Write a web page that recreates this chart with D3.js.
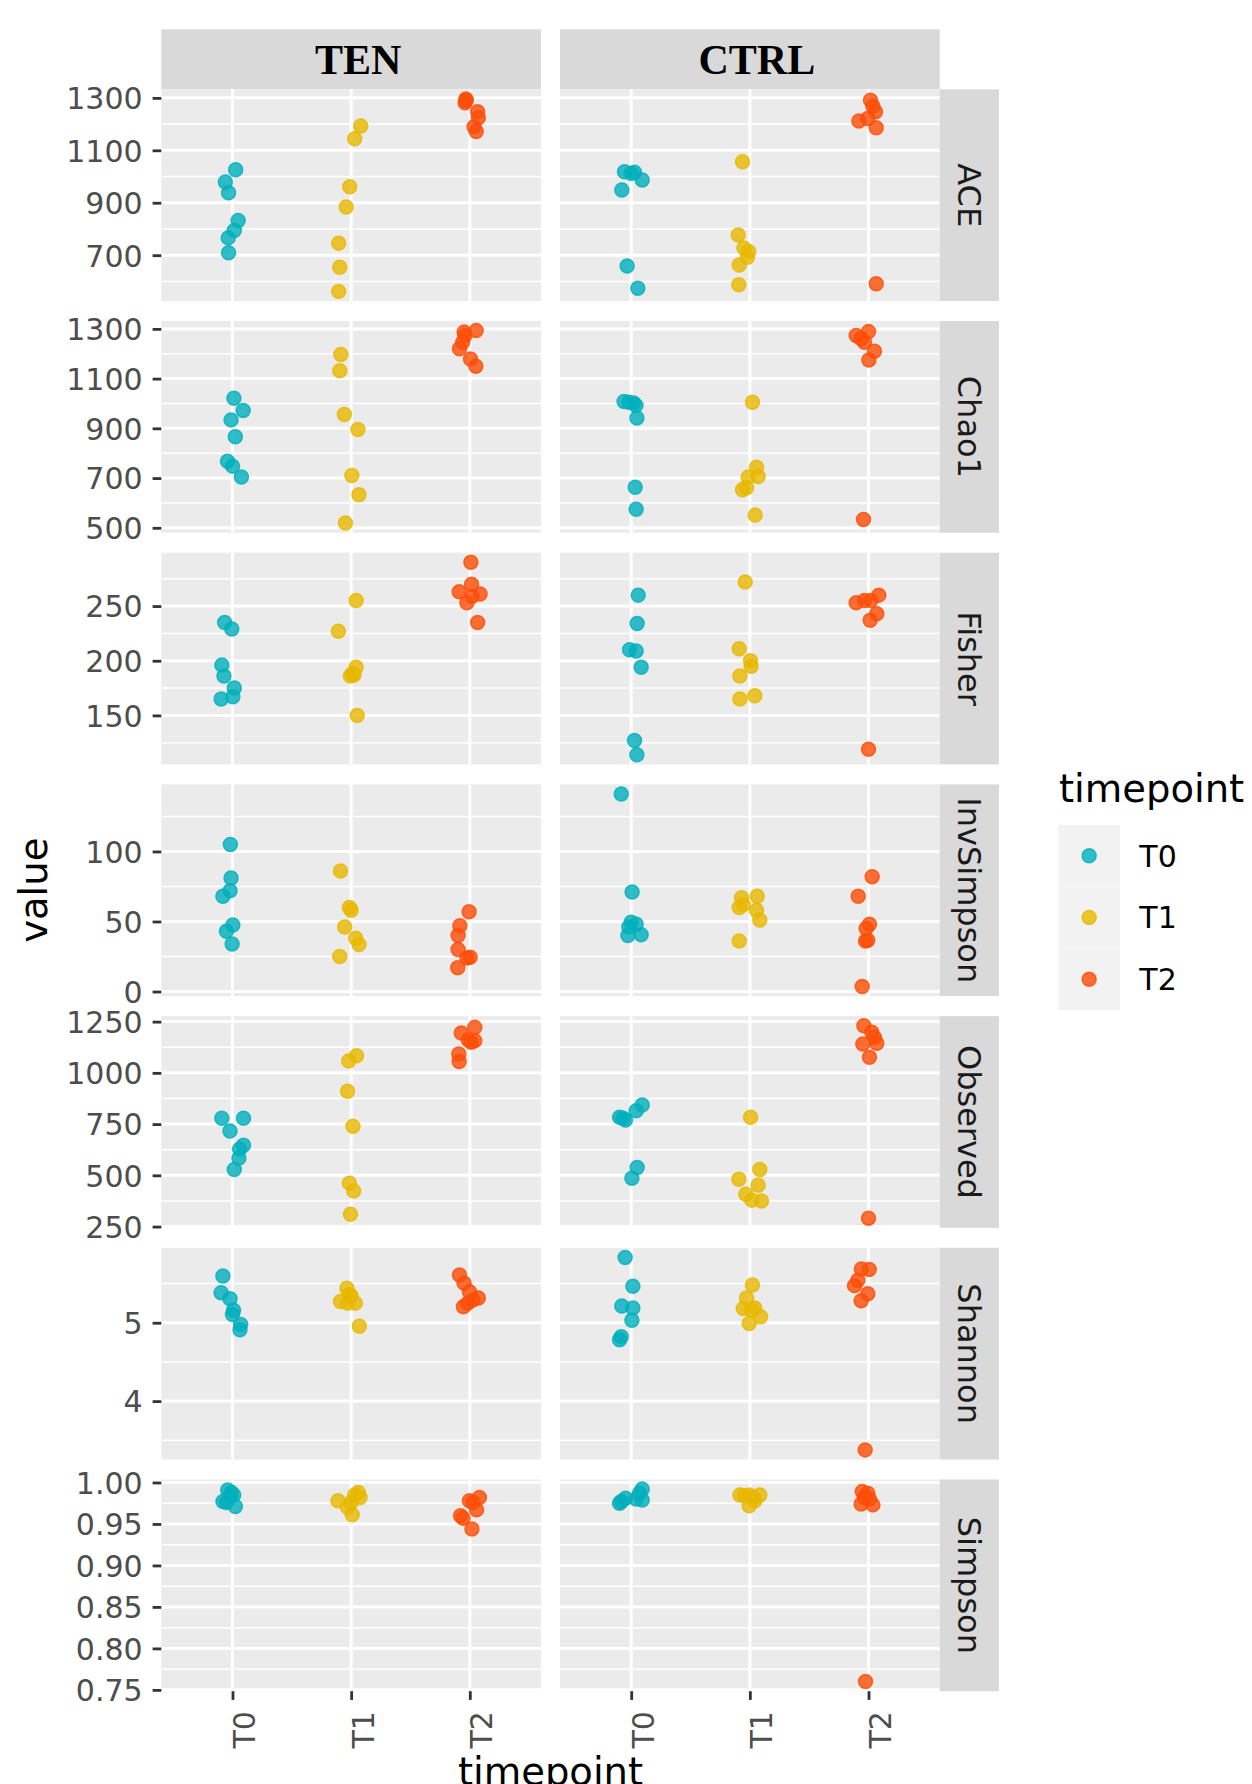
<!DOCTYPE html>
<html>
<head>
<meta charset="utf-8">
<script src="https://cdn.jsdelivr.net/npm/d3@7"></script>
<style>
  body { margin: 0; background: #fff; }
  text { font-family: "DejaVu Sans", sans-serif; }
</style>
</head>
<body>
<div id="chart"></div>
<script>
// facet layout: rows = alpha diversity index, columns = group
var timepoints = ["T0", "T1", "T2"];
var groups = ["TEN", "CTRL"];
var metrics = ["ACE", "Chao1", "Fisher", "InvSimpson", "Observed", "Shannon", "Simpson"];
var colors = ["#00AFBB", "#E7B800", "#FC4E07"];

// each metric: TEN-T0, TEN-T1, TEN-T2, CTRL-T0, CTRL-T1, CTRL-T2 (7 samples each)
var ace = [
  [1026, 979, 938, 832, 794, 766, 709],
  [1193, 1144, 961, 884, 746, 654, 562],
  [1296, 1290, 1281, 1247, 1224, 1190, 1172],
  [1018, 1016, 1012, 987, 949, 659, 574],
  [1056, 777, 727, 714, 692, 663, 587],
  [1291, 1268, 1247, 1221, 1212, 1186, 591]
];
var chao1 = [
  [1021, 972, 934, 866, 768, 748, 704],
  [1197, 1132, 956, 895, 710, 633, 519],
  [1293, 1287, 1273, 1246, 1220, 1179, 1150],
  [1008, 1005, 1002, 992, 942, 663, 575],
  [1005, 744, 706, 704, 661, 653, 551],
  [1289, 1273, 1260, 1246, 1210, 1175, 533]
];
var fisher = [
  [235, 229, 196, 186, 175, 167, 165],
  [255, 227, 194, 188, 187, 186, 150],
  [290, 270, 263, 261, 259, 253, 235],
  [260, 234, 210, 209, 194, 127, 114],
  [272, 211, 200, 195, 186, 168, 165],
  [260, 255, 255, 253, 243, 237, 119]
];
var invSimpson = [
  [105, 81, 72, 68, 47.5, 43, 34],
  [86, 60, 58, 46, 38, 33.5, 25],
  [57, 47, 40, 30, 24.5, 24, 17],
  [141, 71, 49.4, 48, 46, 40.6, 40],
  [68, 67, 62, 60, 58, 51, 36],
  [82, 68, 48, 45, 36.6, 36, 3.6]
];
var observed = [
  [779, 779, 716, 647, 628, 584, 528],
  [1084, 1058, 910, 739, 462, 424, 310],
  [1222, 1195, 1160, 1157, 1149, 1092, 1055],
  [843, 815, 783, 779, 770, 538, 486],
  [783, 528, 481, 452, 408, 379, 375],
  [1230, 1198, 1173, 1144, 1141, 1076, 291]
];
var shannon = [
  [5.595, 5.383, 5.306, 5.158, 5.104, 4.977, 4.91],
  [5.441, 5.36, 5.34, 5.27, 5.25, 5.25, 4.955],
  [5.608, 5.505, 5.396, 5.315, 5.29, 5.248, 5.203],
  [5.833, 5.464, 5.212, 5.189, 5.032, 4.82, 4.784],
  [5.482, 5.315, 5.189, 5.18, 5.16, 5.077, 4.991],
  [5.685, 5.68, 5.541, 5.473, 5.369, 5.279, 3.378]
];
var simpson = [
  [0.991, 0.988, 0.985, 0.983, 0.977, 0.976, 0.971],
  [0.988, 0.985, 0.982, 0.978, 0.976, 0.970, 0.961],
  [0.982, 0.978, 0.976, 0.967, 0.960, 0.957, 0.944],
  [0.992, 0.987, 0.981, 0.980, 0.979, 0.977, 0.975],
  [0.985, 0.985, 0.985, 0.984, 0.982, 0.978, 0.972],
  [0.989, 0.987, 0.982, 0.980, 0.974, 0.973, 0.760]
];

// horizontal jitter (in category units)
var aceJit = [
  [0.027, -0.06, -0.033, 0.048, 0.015, -0.036, -0.033],
  [0.081, 0.03, -0.012, -0.042, -0.105, -0.096, -0.105],
  [-0.033, -0.03, -0.04, 0.066, 0.072, 0.036, 0.054],
  [-0.056, 0.028, 0.0, 0.093, -0.079, -0.034, 0.056],
  [-0.062, -0.098, -0.05, -0.01, -0.02, -0.09, -0.093],
  [0.017, 0.037, 0.059, -0.006, -0.081, 0.065, 0.065]
];
var chao1Jit = [
  [0.012, 0.09, -0.012, 0.024, -0.042, 0.0, 0.075],
  [-0.087, -0.096, -0.057, 0.057, 0.006, 0.066, -0.048],
  [0.054, -0.048, -0.04, -0.06, -0.087, 0.006, 0.051],
  [-0.06, -0.02, 0.02, 0.04, 0.048, 0.034, 0.042],
  [0.022, 0.056, 0.07, -0.014, -0.028, -0.062, 0.045],
  [0.0, -0.104, -0.062, -0.034, 0.05, 0.003, -0.042]
];
var fisherJit = [
  [-0.066, -0.006, -0.09, -0.072, 0.015, 0.003, -0.096],
  [0.042, -0.108, 0.042, 0.01, 0.024, -0.006, 0.051],
  [0.009, 0.015, -0.09, 0.087, 0.02, -0.024, 0.066],
  [0.059, 0.05, -0.014, 0.042, 0.084, 0.028, 0.048],
  [-0.039, -0.09, 0.006, 0.011, -0.084, 0.042, -0.084],
  [0.087, -0.034, 0.02, -0.104, 0.07, 0.014, 0.0]
];
var invSimpsonJit = [
  [-0.018, -0.012, -0.021, -0.081, 0.003, -0.051, -0.003],
  [-0.09, -0.015, 0.0, -0.054, 0.039, 0.066, -0.096],
  [-0.006, -0.084, -0.099, -0.099, 0.003, -0.024, -0.102],
  [-0.084, 0.008, 0.0, 0.042, -0.02, 0.084, -0.028],
  [0.062, -0.07, -0.056, -0.09, 0.056, 0.084, -0.09],
  [0.031, -0.087, 0.008, -0.02, -0.006, -0.025, -0.053]
];
var observedJit = [
  [-0.09, 0.093, -0.021, 0.093, 0.06, 0.054, 0.015],
  [0.045, -0.021, -0.03, 0.015, -0.015, 0.021, -0.006],
  [0.042, -0.072, -0.012, 0.042, 0.012, -0.093, -0.09],
  [0.093, 0.042, -0.098, -0.07, -0.048, 0.05, 0.006],
  [0.006, 0.084, -0.093, 0.07, -0.034, 0.017, 0.098],
  [-0.039, 0.028, 0.05, 0.07, -0.048, 0.008, 0.0]
];
var shannonJit = [
  [-0.081, -0.096, -0.021, 0.009, 0.0, 0.069, 0.063],
  [-0.036, -0.015, 0.0, -0.09, -0.03, 0.036, 0.069],
  [-0.087, -0.048, -0.003, 0.072, 0.027, -0.018, -0.054],
  [-0.051, 0.014, -0.079, 0.014, 0.006, -0.084, -0.098],
  [0.022, -0.028, 0.042, -0.056, 0.014, 0.09, -0.006],
  [-0.06, 0.006, -0.09, -0.118, -0.006, -0.062, -0.028]
];
var simpsonJit = [
  [-0.04, -0.01, 0.01, -0.02, -0.08, -0.05, 0.024],
  [0.06, 0.03, 0.075, -0.111, 0.0, -0.03, 0.009],
  [0.081, -0.003, 0.027, 0.057, -0.078, -0.057, 0.018],
  [0.093, 0.07, -0.048, 0.042, 0.093, -0.084, -0.098],
  [-0.084, -0.006, 0.084, -0.042, 0.028, 0.042, -0.006],
  [-0.053, -0.006, -0.034, 0.008, -0.062, 0.037, -0.025]
];

// y tick labels per row
var aceTicks = [700, 900, 1100, 1300];
var chao1Ticks = [500, 700, 900, 1100, 1300];
var fisherTicks = [150, 200, 250];
var invSimpsonTicks = [0, 50, 100];
var observedTicks = [250, 500, 750, 1000, 1250];
var shannonTicks = [4, 5];
var simpsonTicks = [0.75, 0.80, 0.85, 0.90, 0.95, 1.00];

var rows = [
  {name: "ACE", vals: ace, jit: aceJit, ticks: aceTicks, fmt: d3.format("d")},
  {name: "Chao1", vals: chao1, jit: chao1Jit, ticks: chao1Ticks, fmt: d3.format("d")},
  {name: "Fisher", vals: fisher, jit: fisherJit, ticks: fisherTicks, fmt: d3.format("d")},
  {name: "InvSimpson", vals: invSimpson, jit: invSimpsonJit, ticks: invSimpsonTicks, fmt: d3.format("d")},
  {name: "Observed", vals: observed, jit: observedJit, ticks: observedTicks, fmt: d3.format("d")},
  {name: "Shannon", vals: shannon, jit: shannonJit, ticks: shannonTicks, fmt: d3.format("d")},
  {name: "Simpson", vals: simpson, jit: simpsonJit, ticks: simpsonTicks, fmt: d3.format(".2f")}
];

// dimensions
var width = 1252, height = 1784;
var left = 161.3, stripTop = 29.3, stripH = 60;
var panelW = 379.7, panelH = 211.7, gapX = 19, gapY = 20, stripW = 59.3;
var panelTop = stripTop + stripH;

var svg = d3.select("#chart").append("svg")
    .attr("width", width)
    .attr("height", height);

var xScales = groups.map(function(g, gi) {
  var x0 = left + gi * (panelW + gapX);
  return d3.scalePoint().domain(timepoints).range([x0, x0 + panelW]).padding(0.6);
});

// column strips
groups.forEach(function(g, gi) {
  var x0 = left + gi * (panelW + gapX);
  svg.append("rect")
    .attr("x", x0).attr("y", stripTop)
    .attr("width", panelW).attr("height", stripH)
    .attr("fill", "#D9D9D9");
  svg.append("text")
    .attr("x", x0 + panelW / 2)
    .attr("y", stripTop + stripH / 2)
    .attr("dx", 7)
    .attr("dy", "0.36em")
    .attr("text-anchor", "middle")
    .style("font-family", "'Liberation Serif', serif")
    .style("font-weight", "bold")
    .style("font-size", "42px")
    .attr("fill", "#000")
    .text(g);
});

rows.forEach(function(row, ri) {
  var top = panelTop + ri * (panelH + gapY);
  var all = d3.merge(row.vals);
  var ext = d3.extent(all);
  var pad = (ext[1] - ext[0]) * 0.05;
  var y = d3.scaleLinear()
    .domain([ext[0] - pad, ext[1] + pad])
    .range([top + panelH, top]);

  // minor breaks halfway between the majors
  var step = row.ticks[1] - row.ticks[0];
  var minor = [];
  for (var k = -1; k < row.ticks.length; k++) {
    var m = row.ticks[0] + (k + 0.5) * step;
    if (m >= y.domain()[0] && m <= y.domain()[1]) minor.push(m);
  }
  var major = row.ticks.filter(function(t) { return t >= y.domain()[0] && t <= y.domain()[1]; });

  groups.forEach(function(g, gi) {
    var x = xScales[gi];
    var x0 = left + gi * (panelW + gapX);
    var panel = svg.append("g");

    panel.append("rect")
      .attr("x", x0).attr("y", top)
      .attr("width", panelW).attr("height", panelH)
      .attr("fill", "#EBEBEB");

    panel.selectAll(".minor").data(minor).enter().append("line")
      .attr("x1", x0).attr("x2", x0 + panelW)
      .attr("y1", function(d) { return y(d); })
      .attr("y2", function(d) { return y(d); })
      .attr("stroke", "#fff").attr("stroke-width", 1.5);

    panel.selectAll(".major").data(major).enter().append("line")
      .attr("x1", x0).attr("x2", x0 + panelW)
      .attr("y1", function(d) { return y(d); })
      .attr("y2", function(d) { return y(d); })
      .attr("stroke", "#fff").attr("stroke-width", 3);

    panel.selectAll(".vgrid").data(timepoints).enter().append("line")
      .attr("x1", function(d) { return x(d); })
      .attr("x2", function(d) { return x(d); })
      .attr("y1", top).attr("y2", top + panelH)
      .attr("stroke", "#fff").attr("stroke-width", 3);

    // points
    timepoints.forEach(function(tp, ti) {
      var si = gi * 3 + ti;
      var pts = row.vals[si].map(function(v, i) { return {v: v, j: row.jit[si][i]}; });
      panel.selectAll(".pt" + ti).data(pts).enter().append("circle")
        .attr("cx", function(d) { return x(tp) + d.j * x.step(); })
        .attr("cy", function(d) { return y(d.v); })
        .attr("r", 7)
        .attr("fill", colors[ti])
        .attr("fill-opacity", 0.8)
        .attr("stroke", colors[ti])
        .attr("stroke-opacity", 0.8)
        .attr("stroke-width", 1.5);
    });
  });

  // y axis on the left column only
  var yAxis = svg.append("g")
    .attr("transform", "translate(" + left + ",0)")
    .call(d3.axisLeft(y).tickValues(major).tickFormat(row.fmt).tickSize(8.7).tickPadding(10));
  yAxis.select(".domain").remove();
  yAxis.selectAll("line").attr("stroke", "#333333").attr("stroke-width", 2.8);
  yAxis.selectAll("text")
    .attr("fill", "#4D4D4D")
    .attr("dy", "0.36em")
    .style("font-size", "30px")
    .style("font-family", "'DejaVu Sans', sans-serif");

  // row strip on the right
  var sx = left + 2 * panelW + gapX;
  svg.append("rect")
    .attr("x", sx).attr("y", top)
    .attr("width", stripW).attr("height", panelH)
    .attr("fill", "#D9D9D9");
  svg.append("text")
    .attr("transform", "translate(" + (sx + stripW / 2) + "," + (top + panelH / 2) + ") rotate(90)")
    .attr("dy", "0.36em")
    .attr("text-anchor", "middle")
    .attr("fill", "#1A1A1A")
    .style("font-size", "32px")
    .text(row.name);
});

// x axes under the bottom row
var bottom = panelTop + rows.length * panelH + (rows.length - 1) * gapY;
groups.forEach(function(g, gi) {
  var xAxis = svg.append("g")
    .attr("transform", "translate(0," + bottom + ")")
    .call(d3.axisBottom(xScales[gi]).tickSize(8.7));
  xAxis.select(".domain").remove();
  xAxis.selectAll("line").attr("stroke", "#333333").attr("stroke-width", 2.8);
  xAxis.selectAll("text")
    .attr("x", 0).attr("y", 0).attr("dy", null)
    .attr("transform", "translate(22,20) rotate(-90)")
    .attr("text-anchor", "end")
    .attr("fill", "#4D4D4D")
    .style("font-size", "30px")
    .style("font-family", "'DejaVu Sans', sans-serif");
});

// axis titles
svg.append("text")
  .attr("x", left + (2 * panelW + gapX) / 2)
  .attr("y", 1785)
  .attr("text-anchor", "middle")
  .attr("fill", "#000")
  .style("font-size", "38.5px")
  .text("timepoint");

svg.append("text")
  .attr("transform", "translate(47," + (panelTop + (bottom - panelTop) / 2) + ") rotate(-90)")
  .attr("text-anchor", "middle")
  .attr("fill", "#000")
  .style("font-size", "38.5px")
  .text("value");

// legend
var lgX = 1058.3, lgY = 825, keyH = 61.7;
svg.append("text")
  .attr("x", 1059).attr("y", 801.7)
  .attr("fill", "#000")
  .style("font-size", "38.5px")
  .text("timepoint");

var keys = svg.selectAll(".key").data(timepoints).enter().append("g")
  .attr("transform", function(d, i) { return "translate(" + lgX + "," + (lgY + i * keyH) + ")"; });
keys.append("rect")
  .attr("width", keyH).attr("height", keyH)
  .attr("fill", "#F2F2F2");
keys.append("circle")
  .attr("cx", keyH / 2).attr("cy", keyH / 2)
  .attr("r", 7)
  .attr("fill", function(d, i) { return colors[i]; })
  .attr("fill-opacity", 0.8)
  .attr("stroke", function(d, i) { return colors[i]; })
  .attr("stroke-opacity", 0.8)
  .attr("stroke-width", 1.5);
keys.append("text")
  .attr("x", 81).attr("y", keyH / 2)
  .attr("dy", "0.36em")
  .attr("fill", "#000")
  .style("font-size", "30px")
  .text(function(d) { return d; });
</script>
</body>
</html>
